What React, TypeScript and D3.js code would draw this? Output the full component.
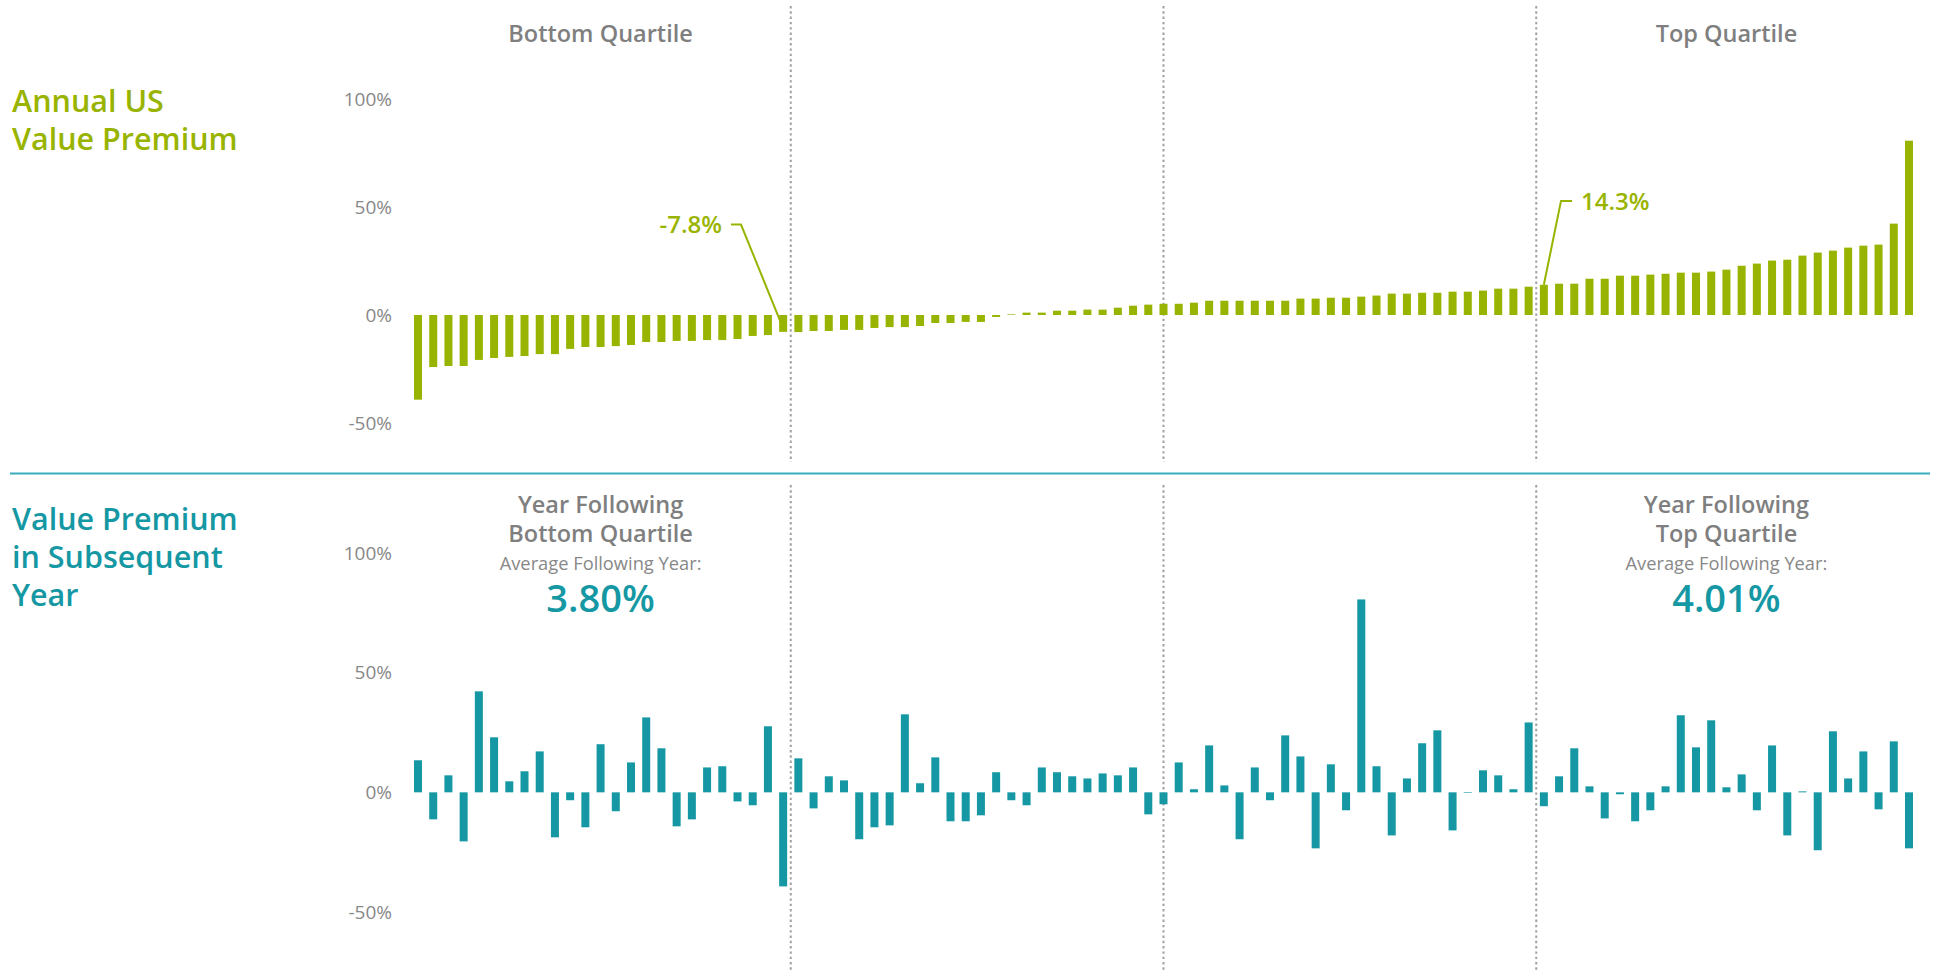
import React from 'react';
import * as d3 from 'd3';

// Annual US value premium, sorted from lowest to highest (%)
const annualPremium: number[] = [
  -39.2, -24.1, -23.6, -23.6, -20.8, -19.9, -19.4, -19.0, -18.1, -18.1,
  -15.7, -14.8, -14.8, -14.4, -13.9, -12.5, -12.5, -12.0, -12.0, -11.6,
  -11.6, -11.1, -9.7, -9.3, -7.8, -7.9, -7.4, -7.4, -6.9, -6.9,
  -6.0, -5.6, -5.6, -5.1, -3.7, -3.7, -3.2, -3.2, -0.9, 0.3,
  1.1, 1.1, 2.0, 2.0, 2.5, 2.5, 3.4, 4.3, 4.8, 5.2,
  5.2, 5.7, 6.6, 6.6, 6.6, 6.6, 6.6, 6.6, 7.6, 7.6,
  8.0, 8.0, 8.5, 9.0, 9.9, 9.9, 10.3, 10.3, 10.8, 10.8,
  11.3, 12.2, 12.2, 13.1, 14.0, 14.5, 14.5, 16.8, 16.8, 18.2,
  18.2, 18.7, 19.1, 19.6, 19.6, 20.1, 21.0, 22.8, 23.8, 25.2,
  25.6, 27.5, 28.9, 29.8, 31.2, 32.1, 32.6, 42.3, 80.7,
];

// Value premium in the following year, same order (%)
const subsequentPremium: number[] = [
  13.4, -11.3, 7.1, -20.5, 42.2, 23.0, 4.6, 8.8, 17.1, -18.8,
  -3.3, -14.6, 20.1, -7.9, 12.5, 31.3, 18.4, -14.2, -11.3, 10.4,
  10.9, -3.8, -5.4, 27.6, -39.3, 14.2, -6.7, 6.7, 5.0, -19.6,
  -14.6, -13.8, 32.6, 3.8, 14.6, -12.1, -12.1, -9.6, 8.4, -3.3,
  -5.4, 10.4, 8.4, 6.7, 5.8, 7.9, 7.1, 10.4, -9.2, -5.0,
  12.5, 1.3, 19.6, 2.9, -19.6, 10.4, -3.3, 23.8, 15.0, -23.4,
  11.7, -7.5, 80.6, 10.9, -18.0, 5.8, 20.5, 25.9, -15.9, 0.0,
  9.2, 7.1, 1.3, 29.2, -5.8, 6.7, 18.4, 2.5, -10.9, -0.8,
  -12.1, -7.5, 2.5, 32.2, 18.8, 30.1, 2.1, 7.5, -7.5, 19.6,
  -18.0, 0.4, -24.2, 25.5, 5.8, 17.1, -7.1, 21.3, -23.4,
];

const yTicks: number[] = [100, 50, 0, -50];
const bottomCutIndex = 24; // last bar of bottom quartile
const medianIndex = 49;
const topCutIndex = 74; // first bar of top quartile
const bottomCutLabel = '-7.8%';
const topCutLabel = '14.3%';
const avgAfterBottom = '3.80%';
const avgAfterTop = '4.01%';

const GREEN = '#99b400';
const TEAL = '#1598a3';
const TEAL_LINE = '#3aaeba';
const GRAY = '#7f7f7f';
const TICK_GRAY = '#888888';
const DOT_GRAY = '#a0a0a0';
const FONT = "'Open Sans', 'Lato', sans-serif";

export default function App() {
  const W = 1937;
  const H = 971;
  const ranks = annualPremium.map((_, i) => i);
  const x = d3
    .scaleBand<number>()
    .domain(ranks)
    .range([410.4, 1916.6])
    .paddingInner(0.474)
    .paddingOuter(0.237);
  const bw = x.bandwidth();
  const step = x.step();
  const cx = (i: number) => (x(i) as number) + bw / 2;

  const yTop = d3.scaleLinear().domain([-50, 100]).range([423, 99]);
  const yBot = d3.scaleLinear().domain([-50, 100]).range([912, 553]);

  const dividers = [
    cx(bottomCutIndex) + step / 2,
    cx(medianIndex),
    cx(topCutIndex) - step / 2,
  ];
  const leftEdge = x.range()[0];
  const rightEdge = x.range()[1];
  const bottomCenter = (leftEdge + dividers[0]) / 2;
  const topCenter = (dividers[2] + rightEdge) / 2;

  const bar = (v: number, y: d3.ScaleLinear<number, number>) => {
    const y0 = y(0);
    const y1 = y(v);
    return { y: Math.min(y0, y1), h: Math.max(Math.abs(y1 - y0), 0.6) };
  };

  // callout geometry
  const bVal = annualPremium[bottomCutIndex];
  const bEnd: [number, number] = [cx(bottomCutIndex) - 2, (yTop(0) + yTop(bVal)) / 2];
  const bLabelY = 224.5;
  const bPath = d3.line()([
    [731, bLabelY],
    [741, bLabelY],
    bEnd,
  ]) as string;
  const tVal = annualPremium[topCutIndex];
  const tEnd: [number, number] = [cx(topCutIndex), yTop(tVal)];
  const tLabelY = 201;
  const tPath = d3.line()([
    [1572, tLabelY],
    [1561, tLabelY],
    tEnd,
  ]) as string;

  const headerStyle = { fontFamily: FONT, fontWeight: 600, fontSize: 23.5, fill: GRAY } as const;
  const titleStyle = { fontFamily: FONT, fontWeight: 600, fontSize: 30.5 } as const;
  const tickStyle = { fontFamily: FONT, fontWeight: 400, fontSize: 19, fill: TICK_GRAY } as const;
  const avgStyle = { fontFamily: FONT, fontWeight: 400, fontSize: 18.3, fill: TICK_GRAY } as const;
  const bigStyle = { fontFamily: FONT, fontWeight: 600, fontSize: 38, fill: TEAL } as const;

  return (
    <svg
      width={W}
      height={H}
      viewBox={`0 0 ${W} ${H}`}
      style={{ position: 'absolute', left: 0, top: 0, background: '#fff' }}
    >
      <rect x={0} y={0} width={W} height={H} fill="#fff" />

      {/* left titles */}
      <text x={12} y={111.5} style={{ ...titleStyle, fill: GREEN }}>Annual US</text>
      <text x={12} y={150} style={{ ...titleStyle, fill: GREEN }}>Value Premium</text>
      <text x={12} y={530} style={{ ...titleStyle, fill: TEAL }}>Value Premium</text>
      <text x={12} y={568} style={{ ...titleStyle, fill: TEAL }}>in Subsequent</text>
      <text x={12} y={606} style={{ ...titleStyle, fill: TEAL }}>Year</text>

      {/* separator */}
      <line x1={10} x2={1930} y1={473.5} y2={473.5} stroke={TEAL_LINE} strokeWidth={2} />

      {/* dividers */}
      {dividers.map((d, i) => (
        <g key={`div${i}`}>
          <line x1={d} x2={d} y1={6} y2={462} stroke={DOT_GRAY} strokeWidth={2} strokeDasharray="2.4,2.9" />
          <line x1={d} x2={d} y1={485} y2={971} stroke={DOT_GRAY} strokeWidth={2} strokeDasharray="2.4,2.9" />
        </g>
      ))}

      {/* tick labels */}
      {yTicks.map((t) => (
        <text key={`tt${t}`} x={392} y={yTop(t)} dy="0.35em" textAnchor="end" style={tickStyle}>{`${t}%`}</text>
      ))}
      {yTicks.map((t) => (
        <text key={`tb${t}`} x={392} y={yBot(t)} dy="0.35em" textAnchor="end" style={tickStyle}>{`${t}%`}</text>
      ))}

      {/* headers top */}
      <text x={bottomCenter} y={41.5} textAnchor="middle" style={headerStyle}>Bottom Quartile</text>
      <text x={topCenter} y={41.5} textAnchor="middle" style={headerStyle}>Top Quartile</text>

      {/* headers bottom */}
      <text x={bottomCenter} y={513} textAnchor="middle" style={headerStyle}>Year Following</text>
      <text x={bottomCenter} y={541.5} textAnchor="middle" style={headerStyle}>Bottom Quartile</text>
      <text x={bottomCenter} y={570} textAnchor="middle" style={avgStyle}>Average Following Year:</text>
      <text x={bottomCenter} y={612} textAnchor="middle" style={bigStyle}>{avgAfterBottom}</text>

      <text x={topCenter} y={513} textAnchor="middle" style={headerStyle}>Year Following</text>
      <text x={topCenter} y={541.5} textAnchor="middle" style={headerStyle}>Top Quartile</text>
      <text x={topCenter} y={570} textAnchor="middle" style={avgStyle}>Average Following Year:</text>
      <text x={topCenter} y={612} textAnchor="middle" style={bigStyle}>{avgAfterTop}</text>

      {/* top bars */}
      {annualPremium.map((v, i) => {
        const b = bar(v, yTop);
        return <rect key={`a${i}`} x={x(i)} y={b.y} width={bw} height={b.h} fill={GREEN} />;
      })}

      {/* bottom bars */}
      {subsequentPremium.map((v, i) => {
        const b = bar(v, yBot);
        return <rect key={`s${i}`} x={x(i)} y={b.y} width={bw} height={b.h} fill={TEAL} />;
      })}

      {/* callouts */}
      <path d={bPath} fill="none" stroke={GREEN} strokeWidth={2} />
      <text x={722} y={bLabelY} dy="0.36em" textAnchor="end"
        style={{ fontFamily: FONT, fontWeight: 600, fontSize: 24, fill: GREEN }}>{bottomCutLabel}</text>
      <path d={tPath} fill="none" stroke={GREEN} strokeWidth={2} />
      <text x={1581} y={tLabelY} dy="0.36em" textAnchor="start"
        style={{ fontFamily: FONT, fontWeight: 600, fontSize: 24, fill: GREEN }}>{topCutLabel}</text>
    </svg>
  );
}
